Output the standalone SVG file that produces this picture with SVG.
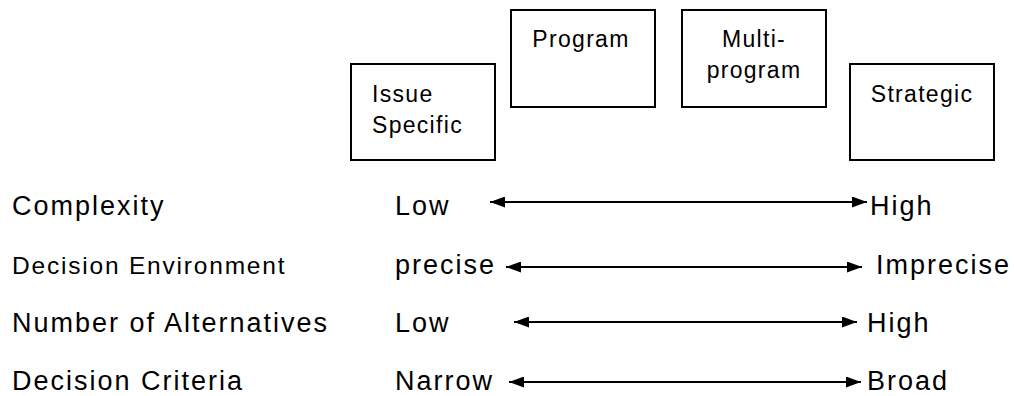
<svg xmlns="http://www.w3.org/2000/svg" width="1014" height="396" viewBox="0 0 1014 396">
<style>
.box{fill:#fff;stroke:#000;stroke-width:2}
.bt{font-family:"Liberation Sans",Arial,sans-serif;font-size:23px;letter-spacing:1.3px;fill:#000}
.lt{font-family:"Liberation Sans",Arial,sans-serif;font-size:27px;letter-spacing:2px;fill:#000}
.st{font-family:"Liberation Sans",Arial,sans-serif;font-size:24.5px;letter-spacing:1.8px;fill:#000}
.ar{stroke:#000;stroke-width:2;fill:none;marker-start:url(#ah);marker-end:url(#ah)}
.mid{text-anchor:middle}
</style>
<defs>
<marker id="ah" viewBox="0 0 15 11" refX="15" refY="5.5" markerWidth="15" markerHeight="11" orient="auto-start-reverse" markerUnits="userSpaceOnUse">
<path d="M0,0 L15,5.5 L0,11 z" fill="#000"/>
</marker>
</defs>
<g id="issue-specific">
<rect class="box" x="351" y="64" width="144" height="96"/>
<text class="bt" x="372" y="102">Issue</text>
<text class="bt" x="372" y="133">Specific</text>
</g>
<g id="program">
<rect class="box" x="511" y="10" width="144" height="97"/>
<text class="bt mid" x="581" y="47">Program</text>
</g>
<g id="multi-program">
<rect class="box" x="682" y="10" width="144" height="97"/>
<text class="bt mid" x="754" y="47">Multi-</text>
<text class="bt mid" x="754" y="78">program</text>
</g>
<g id="strategic">
<rect class="box" x="850" y="64" width="144" height="96"/>
<text class="bt mid" x="922" y="102">Strategic</text>
</g>
<g id="row-labels">
<text class="lt" x="12" y="215">Complexity</text>
<text class="st" x="12" y="274">Decision Environment</text>
<text class="lt" x="12" y="332">Number of Alternatives</text>
<text class="lt" x="12" y="390">Decision Criteria</text>
</g>
<g id="scale-labels">
<text class="lt" x="395" y="215">Low</text>
<text class="lt" x="870" y="215">High</text>
<text class="lt" x="395" y="274">precise</text>
<text class="lt" x="876" y="274">Imprecise</text>
<text class="lt" x="395" y="332">Low</text>
<text class="lt" x="867" y="332">High</text>
<text class="lt" x="395" y="390">Narrow</text>
<text class="lt" x="867" y="390">Broad</text>
</g>
<g id="connectors">
<line class="ar" x1="490" y1="202" x2="867" y2="202"/>
<line class="ar" x1="506" y1="267" x2="862" y2="267"/>
<line class="ar" x1="514" y1="322" x2="857" y2="322"/>
<line class="ar" x1="509" y1="382" x2="861" y2="382"/>
</g>
</svg>
